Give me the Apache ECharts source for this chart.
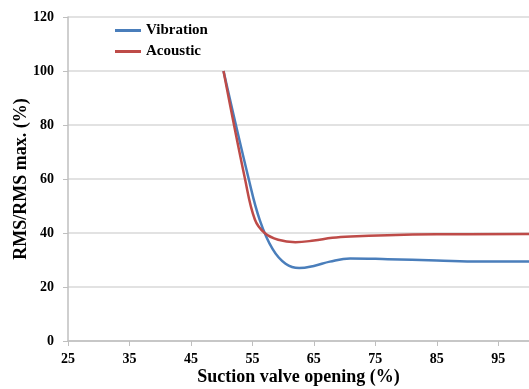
<!DOCTYPE html>
<html>
<head>
<meta charset="utf-8">
<script src="https://cdn.jsdelivr.net/npm/echarts@6/dist/echarts.min.js"></script>
<style>
html,body{margin:0;padding:0;background:#fff;}
#chart{width:529px;height:389px;}
</style>
</head>
<body>
<div id="chart"></div>
<script>
var xTicks = [25, 35, 45, 55, 65, 75, 85, 95];
var yTicks = [0, 20, 40, 60, 80, 100, 120];

var vibrationX = [50.3, 54.4, 56.2, 58.3, 60.4, 62.6, 65.0, 67.6, 70.9, 77, 85, 92, 100];
var vibrationY = [100, 60, 44.8, 34.0, 28.6, 27.0, 27.8, 29.4, 30.6, 30.3, 29.8, 29.4, 29.4];

var acousticX = [50.3, 53.8, 55.4, 57.0, 59.2, 62.0, 65, 68, 71, 77, 85, 100];
var acousticY = [100, 60, 45, 40, 37.5, 36.6, 37.2, 38.2, 38.7, 39.2, 39.5, 39.6];

function pairs(xs, ys) { return xs.map(function (x, i) { return [x, ys[i]]; }); }

var chart = echarts.init(document.getElementById('chart'));
var font = 'Liberation Serif';
chart.setOption({
  animation: false,
  grid: { left: 68, right: 0, top: 17, bottom: 48, outerBoundsMode: 'none', containLabel: false },
  legend: {
    orient: 'vertical', left: 110, top: 18, itemGap: 6,
    icon: 'rect', itemWidth: 26, itemHeight: 3,
    textStyle: { fontFamily: font, fontWeight: 'bold', fontSize: 15, color: '#000' },
    data: ['Vibration', 'Acoustic']
  },
  xAxis: {
    type: 'value', min: 25, max: 100, interval: 10,
    name: 'Suction valve opening (%)', nameLocation: 'middle', nameGap: 27, nameMoveOverlap: false,
    nameTextStyle: { fontFamily: font, fontWeight: 'bold', fontSize: 18, color: '#000' },
    axisLine: { lineStyle: { color: '#bfbfbf', width: 1.5 } },
    axisTick: { show: true, length: 5, lineStyle: { color: '#bfbfbf' } },
    axisLabel: { showMaxLabel: false, margin: 11, fontFamily: font, fontWeight: 'bold', fontSize: 14, color: '#000',
      formatter: function (v) { return xTicks.indexOf(v) >= 0 ? String(v) : ''; } },
    splitLine: { show: false }
  },
  yAxis: {
    type: 'value', min: 0, max: 120, interval: 20,
    name: 'RMS/RMS max. (%)', nameLocation: 'middle', nameGap: 38, nameMoveOverlap: false,
    nameTextStyle: { fontFamily: font, fontWeight: 'bold', fontSize: 18, color: '#000' },
    axisLine: { show: true, lineStyle: { color: '#bfbfbf', width: 1.5 } },
    axisTick: { show: true, length: 5, lineStyle: { color: '#bfbfbf' } },
    axisLabel: { margin: 14, fontFamily: font, fontWeight: 'bold', fontSize: 14, color: '#000',
      formatter: function (v) { return yTicks.indexOf(v) >= 0 ? String(v) : ''; } },
    splitLine: { show: true, lineStyle: { color: '#d9d9d9', width: 1.5 } }
  },
  series: [
    { name: 'Vibration', type: 'line', data: pairs(vibrationX, vibrationY), symbol: 'none',
      smooth: 0.4, lineStyle: { color: '#4a7ebb', width: 2.5 }, itemStyle: { color: '#4a7ebb' } },
    { name: 'Acoustic', type: 'line', data: pairs(acousticX, acousticY), symbol: 'none',
      smooth: 0.4, lineStyle: { color: '#be4b48', width: 2.5 }, itemStyle: { color: '#be4b48' } }
  ]
});
</script>
</body>
</html>
